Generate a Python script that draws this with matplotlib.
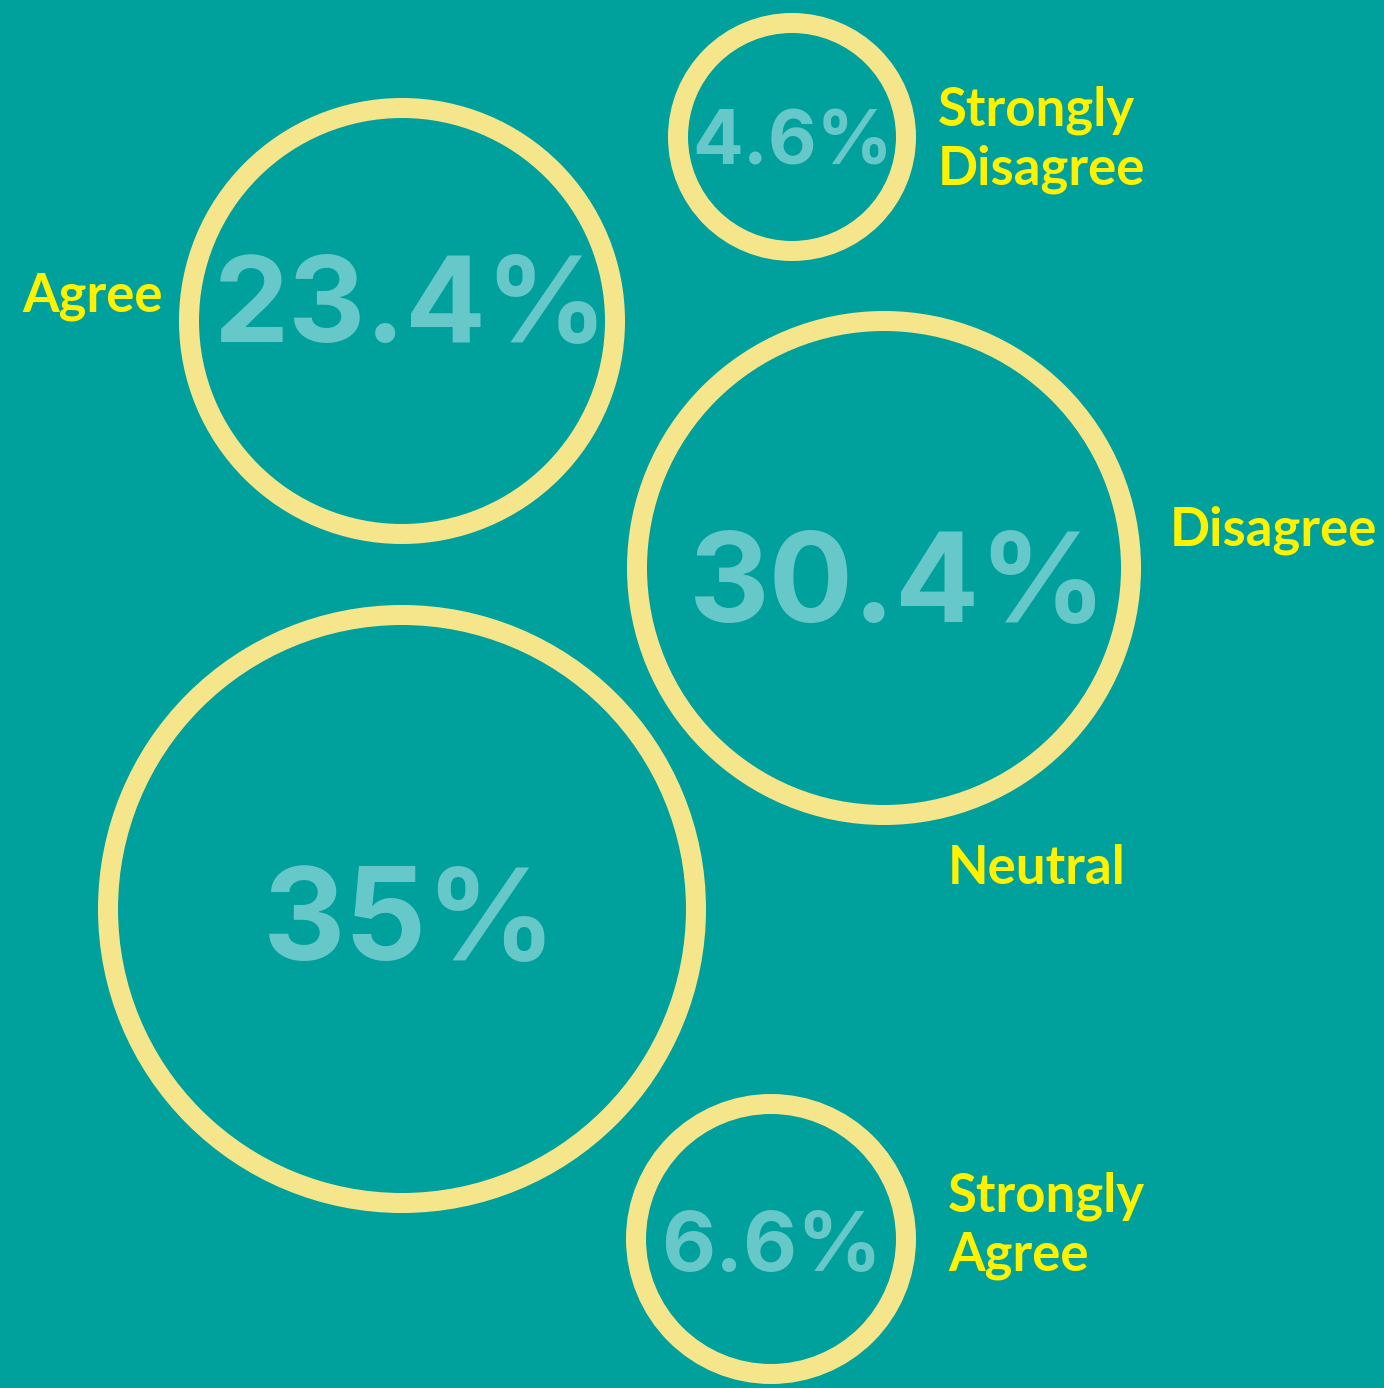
import matplotlib.pyplot as plt
from matplotlib.patches import Circle

# survey answer shares (%)
labels = ["Strongly\nDisagree", "Agree", "Disagree", "Neutral", "Strongly\nAgree"]
values = [4.6, 23.4, 30.4, 35, 6.6]
pct_text = ["4.6%", "23.4%", "30.4%", "35%", "6.6%"]

# bubble layout (pixels of the 1384x1388 canvas)
cx = [792, 402, 884, 402, 771]
cy = [137, 321, 568, 909, 1239]
rad = [124, 223, 257, 304, 145]
pct_size = [54, 86, 90, 92, 60]
pct_base = [164, 342, 622, 960, 1271]
pct_dx = [1, 9, 14, 8, 1]

# label positions: baseline of the last line
lab_x = [938, 22, 1170, 948, 948]
lab_y = [184, 311, 545, 884, 1270]

bg = "#00A19C"
ring = "#F5E68C"
numcol = "#66C8C8"
labcol = "#FFF200"

fig = plt.figure(figsize=(13.84, 13.88), dpi=100)
fig.patch.set_facecolor(bg)
ax = fig.add_axes([0, 0, 1, 1])
ax.set_facecolor(bg)
ax.set_xlim(0, 1384)
ax.set_ylim(1388, 0)
ax.set_aspect("equal")
ax.axis("off")

for i in range(len(values)):
    # ring ~20px thick, outer edge at rad
    c = Circle((cx[i], cy[i]), rad[i] - 10, fill=False, ec=ring, lw=20 * 0.72)
    ax.add_patch(c)
    ax.text(cx[i] + pct_dx[i], pct_base[i], pct_text[i], color=numcol,
            fontsize=pct_size[i], fontweight="bold", family="Inter",
            ha="center", va="baseline")
    ax.text(lab_x[i], lab_y[i], labels[i], color=labcol, fontsize=38,
            fontweight="bold", family="Lato", ha="left",
            va="baseline", linespacing=1.22)

fig.savefig("out.png", dpi=100, facecolor=bg)
